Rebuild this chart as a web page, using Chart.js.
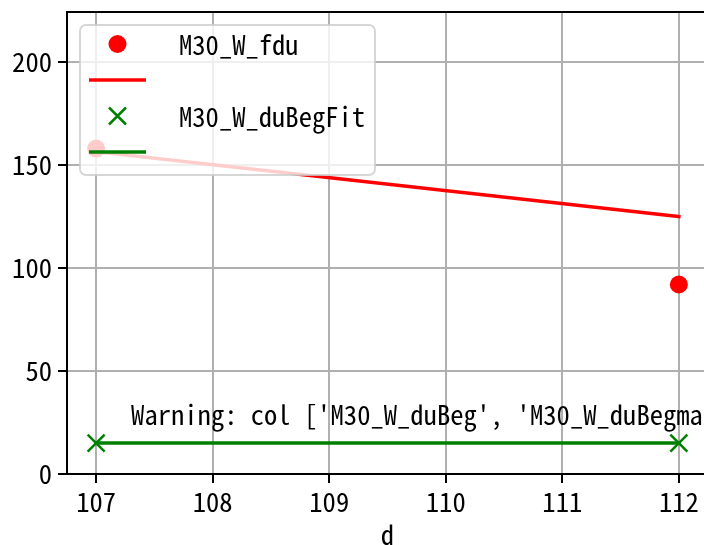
<!DOCTYPE html>
<html><head><meta charset="utf-8">
<script src="https://cdn.jsdelivr.net/npm/chart.js@4/dist/chart.umd.min.js"></script>
<style>html,body{margin:0;padding:0;background:#fff;overflow:hidden}
#wrap{width:704px;height:545px;overflow:hidden;position:relative;background:#fff}
canvas{display:block}</style></head><body>
<div id="wrap"><canvas id="c" width="720" height="545"></canvas></div>
<script>
// ---- data ----
const xValues = [107, 112];
const fduValues = [158, 92];
const fduFitValues = [156.5, 125];
const duBegFitValues = [15, 15];
const duBegLineValues = [15, 15];
const xTicks = [107, 108, 109, 110, 111, 112];
const yTicks = [0, 50, 100, 150, 200];
const xRange = [106.75, 112.25];
const yRange = [0, 224.3];
const legendLabels = ['M30_W_fdu', '', 'M30_W_duBegFit', ''];
const warningText = "Warning: col ['M30_W_duBeg', 'M30_W_duBegma";
const xTitle = 'd';

const FONT = "'Noto Sans Mono CJK SC','Noto Sans CJK SC','DejaVu Sans Mono',monospace";
const FS = 26.6;
const RED = '#ff0000', GREEN = '#008000';

const pts = vals => xValues.map((x, i) => ({x: x, y: vals[i]}));
const noPad = s => { s.paddingTop = 0; s.paddingBottom = 0; s.paddingLeft = 0; s.paddingRight = 0; };

const overlay = {
  id: 'overlay',
  afterDraw(chart) {
    const ctx = chart.ctx, a = chart.chartArea;
    ctx.save();
    // top spine
    ctx.strokeStyle = '#000'; ctx.lineWidth = 2;
    ctx.beginPath(); ctx.moveTo(a.left - 1, a.top); ctx.lineTo(a.right + 1, a.top); ctx.stroke();
    // warning annotation (axes fraction)
    ctx.fillStyle = '#000';
    ctx.font = FS + 'px ' + FONT;
    ctx.textBaseline = 'alphabetic'; ctx.textAlign = 'left';
    ctx.fillText(warningText, a.left + 0.1 * (a.right - a.left), a.bottom - 0.106 * (a.bottom - a.top));
    // legend box
    const bx = a.left + 13, by = a.top + 13, bw = 295, bh = 150;
    ctx.beginPath();
    ctx.roundRect(bx, by, bw, bh, 6);
    ctx.fillStyle = 'rgba(255,255,255,0.8)'; ctx.fill();
    ctx.strokeStyle = 'rgba(204,204,204,0.8)'; ctx.lineWidth = 2; ctx.stroke();
    const hx0 = bx + 9, hx1 = bx + 66, hc = (hx0 + hx1) / 2, tx = bx + 99;
    const rows = [by + 19, by + 55, by + 91, by + 127];
    ctx.fillStyle = RED;
    ctx.beginPath(); ctx.arc(hc, rows[0], 9, 0, Math.PI * 2); ctx.fill();
    ctx.strokeStyle = RED; ctx.lineWidth = 3.5; ctx.lineCap = 'butt';
    ctx.beginPath(); ctx.moveTo(hx0, rows[1]); ctx.lineTo(hx1, rows[1]); ctx.stroke();
    ctx.strokeStyle = GREEN; ctx.lineWidth = 2.5;
    const r = 8.5;
    ctx.beginPath();
    ctx.moveTo(hc - r, rows[2] - r); ctx.lineTo(hc + r, rows[2] + r);
    ctx.moveTo(hc - r, rows[2] + r); ctx.lineTo(hc + r, rows[2] - r);
    ctx.stroke();
    ctx.lineWidth = 3.5;
    ctx.beginPath(); ctx.moveTo(hx0, rows[3]); ctx.lineTo(hx1, rows[3]); ctx.stroke();
    ctx.fillStyle = '#000'; ctx.textBaseline = 'middle';
    legendLabels.forEach((t, i) => { if (t) ctx.fillText(t, tx, rows[i] + 1); });
    ctx.restore();
  }
};

new Chart(document.getElementById('c'), {
  type: 'scatter',
  data: {
    datasets: [
      {label: legendLabels[0], data: pts(fduValues), showLine: false, pointRadius: 9,
       pointBackgroundColor: RED, pointBorderWidth: 0, borderColor: RED, order: 4},
      {label: 'fit', data: pts(fduFitValues), showLine: true, pointRadius: 0,
       borderColor: RED, borderWidth: 3.5, borderCapStyle: 'square', order: 3},
      {label: legendLabels[2], data: pts(duBegFitValues), showLine: false, pointStyle: 'crossRot',
       pointRadius: 12, pointBorderColor: GREEN, pointBorderWidth: 2.5, borderColor: GREEN, order: 2},
      {label: 'line', data: pts(duBegLineValues), showLine: true, pointRadius: 0,
       borderColor: GREEN, borderWidth: 3.5, borderCapStyle: 'square', order: 1}
    ]
  },
  options: {
    responsive: false, animation: false,
    layout: {autoPadding: false, padding: {top: 12, right: 12, left: 0, bottom: 0}},
    plugins: {legend: {display: false}, tooltip: {enabled: false}},
    scales: {
      x: {
        type: 'linear', min: xRange[0], max: xRange[1],
        afterBuildTicks: s => { s.ticks = xTicks.map(v => ({value: v})); },
        afterFit: s => { s.height = 71; noPad(s); },
        grid: {color: '#b0b0b0', lineWidth: 2, tickColor: '#000', tickLength: 9, tickWidth: 2},
        border: {color: '#000', width: 2},
        ticks: {color: '#000', font: {family: FONT, size: FS}, padding: 3, maxRotation: 0, autoSkip: false},
        title: {display: true, text: xTitle, color: '#000', font: {family: FONT, size: FS}, padding: {top: 0, bottom: -6}}
      },
      y: {
        type: 'linear', min: yRange[0], max: yRange[1],
        afterBuildTicks: s => { s.ticks = yTicks.map(v => ({value: v})); },
        afterFit: s => { s.width = 67; noPad(s); },
        grid: {color: '#b0b0b0', lineWidth: 2, tickColor: '#000', tickLength: 9, tickWidth: 2},
        border: {color: '#000', width: 2},
        ticks: {color: '#000', font: {family: FONT, size: FS}, padding: 6}
      }
    }
  },
  plugins: [overlay]
});
</script></body></html>
